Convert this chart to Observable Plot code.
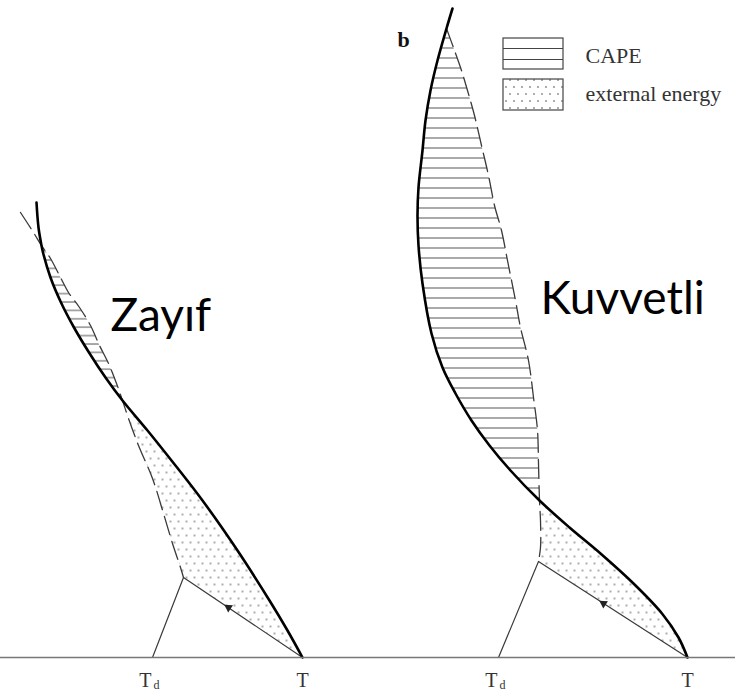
<!DOCTYPE html>
<html>
<head>
<meta charset="utf-8">
<script src="https://cdn.jsdelivr.net/npm/d3@7"></script>
<script src="https://cdn.jsdelivr.net/npm/@observablehq/plot@0.6"></script>
<style>
  html, body { margin: 0; padding: 0; background: #fff; overflow: hidden; }
  svg { display: block; }
</style>
</head>
<body>
<div id="chart"></div>
<script>
// Readings from the picture: x = temperature position, h = height above the ground line.
// Left panel ("Zayıf")
const envLeft = [[36,455],[38,430],[41,412],[42.5,405],[50,380],[60.5,355],[73.5,330],[88.5,305],[105,280],[122,257],[147,227],[171,197],[202,157],[237,107],[269,57],[287,27],[302,0]];
const parcelLeft = [[20,445],[33,425],[41,412],[50,399],[60,380],[68,365],[79,350],[90,332],[99,312],[108,294],[116,274],[122,257],[128,239],[138,212],[152,179],[163,144],[172,114],[180,90],[183,80]];
const pointsLeft = { T: [302,0], Td: [152,0], LCL: [183,80], LFC: [122,257], EL: [41,412], arrow: [228,50] };

// Right panel ("Kuvvetli")
const envRight = [[452,649],[446,629],[437,597],[430,567],[425,537],[422,507],[418,470],[417,442],[418,412],[422,374],[431,324],[442,290],[455,264],[471,237],[489,212],[510,187],[539,157],[569,130],[600,104],[633,74],[661.5,44],[678,20],[687,0]];
const parcelRight = [[446,629],[454,607],[461,587],[467,567],[474,542],[481,512],[488,482],[494,452],[501,427],[507,397],[515,357],[520,330],[528,297],[533,260],[537,227],[538,194],[539,157],[540,137],[540,110],[538,96]];
const pointsRight = { T: [687,0], Td: [498,0], LCL: [538,96], LFC: [539,157], EL: [446,629], arrow: [603,54] };

const panelLabels = ["Zayıf", "Kuvvetli"];
const legendLabels = ["CAPE", "external energy"];
const panelLetter = "b";
const tempLabel = "T";
const dewSub = "d";

const toObj = ([x, h]) => ({x, h});

function capePolygon(env, parcel, p) {
  const top = p.EL[1], bot = p.LFC[1];
  const a = parcel.filter(d => d[1] <= top && d[1] >= bot);
  const b = env.filter(d => d[1] <= top && d[1] >= bot).reverse();
  return a.concat(b).map(toObj);
}
function energyPolygon(env, parcel, p) {
  const top = p.LFC[1], bot = p.LCL[1];
  const a = parcel.filter(d => d[1] <= top && d[1] >= bot).reverse();
  const b = env.filter(d => d[1] <= top);
  return a.concat(b).map(toObj);
}
function arrowAngle(p) {
  return Math.atan2(p.LCL[0] - p.T[0], p.LCL[1] - p.T[1]) * 180 / Math.PI;
}

const thin = {stroke: "#3a3a3a", strokeWidth: 1.2};
const dashed = {stroke: "#3a3a3a", strokeWidth: 1.3, strokeDasharray: "19,7", curve: "catmull-rom"};
const thick = {stroke: "#000", strokeWidth: 2.6, curve: "catmull-rom"};
const serif = "Liberation Serif, DejaVu Serif, serif";
const sans = "Lato, Open Sans, Liberation Sans, sans-serif";

function panelMarks(env, parcel, p, hatchId) {
  return [
    Plot.line(capePolygon(env, parcel, p), {x: "x", y: "h", fill: `url(#${hatchId})`, stroke: "none", curve: "catmull-rom"}),
    Plot.line(energyPolygon(env, parcel, p), {x: "x", y: "h", fill: "url(#dots)", stroke: "none", curve: "catmull-rom"}),
    Plot.line([p.Td, p.LCL].map(toObj), {x: "x", y: "h", ...thin}),
    Plot.line([p.T, p.LCL].map(toObj), {x: "x", y: "h", ...thin}),
    Plot.line(parcel.map(toObj), {x: "x", y: "h", ...dashed}),
    Plot.line(env.map(toObj), {x: "x", y: "h", ...thick}),
    Plot.dot([toObj(p.arrow)], {x: "x", y: "h", symbol: "triangle", r: 3.2, fill: "#222", stroke: "none", rotate: arrowAngle(p)}),
    Plot.text([toObj(p.Td)], {x: "x", y: "h", text: () => tempLabel, textAnchor: "end", dx: -1, dy: 22.8, fontFamily: serif, fontSize: 20, fill: "#333"}),
    Plot.text([toObj(p.Td)], {x: "x", y: "h", text: () => dewSub, textAnchor: "start", dx: 1, dy: 27.5, fontFamily: serif, fontSize: 12, fill: "#333"}),
    Plot.text([toObj(p.T)], {x: "x", y: "h", text: () => tempLabel, textAnchor: "middle", dx: 0, dy: 22.8, fontFamily: serif, fontSize: 20, fill: "#333"})
  ];
}

const svg = Plot.plot({
  width: 735,
  height: 691,
  margin: 0,
  style: {background: "#fff", overflow: "visible"},
  x: {domain: [0, 735], range: [0, 735], axis: null},
  y: {domain: [-34, 657], range: [691, 0], axis: null},
  marks: [
    ...panelMarks(envLeft, parcelLeft, pointsLeft, "hatchL"),
    ...panelMarks(envRight, parcelRight, pointsRight, "hatchR"),
    Plot.ruleY([0], {x1: 0, x2: 735, stroke: "#777", strokeWidth: 1.5}),
    // panel names
    Plot.text([panelLabels[0]], {x: 110, y: 341, text: d => d, textAnchor: "start", fontFamily: sans, fontSize: 46, fill: "#000"}),
    Plot.text([panelLabels[1]], {x: 540, y: 358, text: d => d, textAnchor: "start", fontFamily: sans, fontSize: 46, fill: "#000", letterSpacing: 0.5}),
    Plot.text([panelLetter], {x: 397, y: 618, text: d => d, textAnchor: "start", fontFamily: serif, fontWeight: "bold", fontSize: 22, fill: "#111"}),
    // legend
    Plot.rect([legendLabels[0]], {x1: 503, x2: 563, y1: 588, y2: 619, fill: "#fff", stroke: "#444", strokeWidth: 1.2}),
    Plot.ruleY([609, 598], {x1: 503, x2: 563, stroke: "#444", strokeWidth: 1.1}),
    Plot.rect([legendLabels[1]], {x1: 503, x2: 563, y1: 547, y2: 578, fill: "url(#dots)", stroke: "#444", strokeWidth: 1.2}),
    Plot.text([legendLabels[0]], {x: 585, y: 602, text: d => d, textAnchor: "start", fontFamily: serif, fontSize: 22, fill: "#333", letterSpacing: 0.5}),
    Plot.text([legendLabels[1]], {x: 585, y: 564, text: d => d, textAnchor: "start", fontFamily: serif, fontSize: 22, fill: "#333", letterSpacing: 0.8})
  ]
});

// fill patterns (hatching for CAPE, stipple for external energy)
const defs = d3.select(svg).insert("defs", ":first-child");
const hL = defs.append("pattern").attr("id", "hatchL").attr("patternUnits", "userSpaceOnUse").attr("width", 10).attr("height", 8.4);
hL.append("line").attr("x1", 0).attr("x2", 10).attr("y1", 7.5).attr("y2", 7.5).attr("stroke", "#555").attr("stroke-width", 1);
const hR = defs.append("pattern").attr("id", "hatchR").attr("patternUnits", "userSpaceOnUse").attr("width", 10).attr("height", 10);
hR.append("line").attr("x1", 0).attr("x2", 10).attr("y1", 7.5).attr("y2", 7.5).attr("stroke", "#555").attr("stroke-width", 1);
const dp = defs.append("pattern").attr("id", "dots").attr("patternUnits", "userSpaceOnUse").attr("width", 8).attr("height", 14);
dp.append("circle").attr("cx", 2).attr("cy", 3).attr("r", 0.8).attr("fill", "#444");
dp.append("circle").attr("cx", 6).attr("cy", 10).attr("r", 0.8).attr("fill", "#444");

document.getElementById("chart").append(svg);
</script>
</body>
</html>
